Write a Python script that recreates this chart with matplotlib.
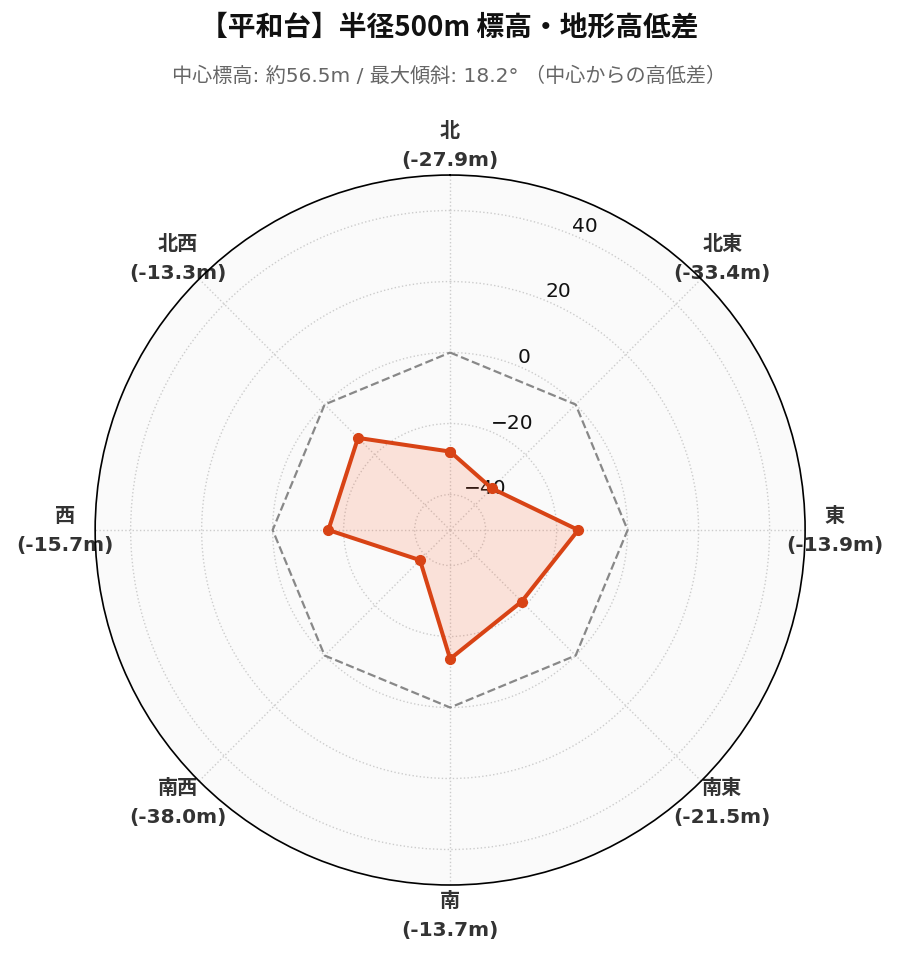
import matplotlib
matplotlib.use("Agg")
import matplotlib.pyplot as plt
import numpy as np

plt.rcParams['font.family'] = ['Noto Sans CJK JP', 'DejaVu Sans']
wide = ['DejaVu Sans', 'Noto Sans CJK JP']

# 方位ごとの中心からの高低差 (m)
directions = ["北", "北東", "東", "南東", "南", "南西", "西", "北西"]
diffs = [-27.9, -33.4, -13.9, -21.5, -13.7, -38.0, -15.7, -13.3]
rticks = [-40, -20, 0, 20, 40]

title = "【平和台】半径500m 標高・地形高低差"
subtitle = "中心標高: 約56.5m / 最大傾斜: 18.2° （中心からの高低差）"

n = len(directions)
ang = np.linspace(0, 2 * np.pi, n, endpoint=False)
ang_c = np.append(ang, ang[0])
vals_c = np.append(diffs, diffs[0])

fig = plt.figure(figsize=(8.99, 9.62), dpi=100)
ax = fig.add_axes([0.1057, 0.079, 0.790, 0.738], projection='polar')
ax.set_theta_zero_location('N')
ax.set_theta_direction(-1)
ax.set_facecolor('#fafafa')

# 基準線 (0m)
ax.plot(ang_c, np.zeros(n + 1), color='#888888', lw=1.6, ls='--', zorder=2)

ax.fill(ang_c, vals_c, color='#ff5722', alpha=0.15, zorder=3)
ax.plot(ang_c, vals_c, color='#d84315', lw=2.9, marker='o', ms=7, zorder=4)

ax.set_ylim(-50, 50)
ax.set_yticks(rticks)
ax.set_rlabel_position(22.5)
ax.tick_params(axis='y', labelsize=14.5, labelcolor='#111111')
for lab in ax.get_yticklabels():
    lab.set_fontfamily('DejaVu Sans')

ax.set_xticks(ang)
ax.set_xticklabels([f"{d}\n({v:.1f}m)" for d, v in zip(directions, diffs)],
                   fontsize=14.5, fontweight='bold', color='#333333', linespacing=1.65,
                   family=wide)
ax.tick_params(axis='x', pad=11)

ax.grid(True, color='#cccccc', ls=':', lw=1.0)
ax.spines['polar'].set_color('black')
ax.spines['polar'].set_linewidth(1.2)

fig.text(0.5, 0.971, title, ha='center', va='center', fontsize=20, fontweight='bold', color='#111111')
fig.text(0.5, 0.921, subtitle, ha='center', va='center', fontsize=14.5, color='#666666', family=wide)

fig.savefig('out.png', dpi=100)
